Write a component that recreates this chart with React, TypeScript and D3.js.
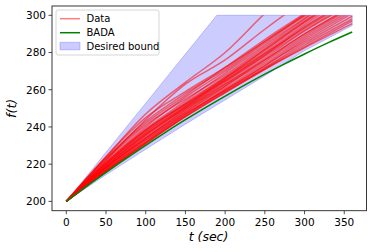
import React from "react";
import * as d3 from "d3";

const W = 374;
const H = 252;

// sample times for the data curves
const dataT = [0, 50, 100, 150, 200, 250, 300, 360];
const dataSeries: number[][] = [
  [200, 224, 247, 264, 280, 301, 320, 340],
  [200, 222, 244, 263, 276, 292.5, 308, 325],
  [200, 223, 242, 257, 272, 287, 301, 318],
  [200, 221, 240, 256, 270, 285, 299.5, 315],
  [200, 222, 241, 255, 268, 283, 298, 314],
  [200, 220, 238, 253, 267, 282, 297, 313],
  [200, 219, 237, 252, 266, 280, 295, 311],
  [200, 220, 238, 252, 265, 279, 294, 309],
  [200, 218, 235, 250, 264, 278, 292, 307],
  [200, 219, 236, 250, 263, 277, 291.5, 306],
  [200, 218, 234, 249, 263, 276, 290, 305],
  [200, 217, 233, 248, 262, 275, 289, 304],
  [200, 218, 234, 248, 261, 274, 288, 303],
  [200, 217, 232, 247, 260, 273, 287, 302],
  [200, 216.5, 232, 246.5, 260, 273, 286, 301],
  [200, 217, 233, 247, 259.5, 272, 285, 299.5],
  [200, 216, 231, 246, 259, 271.5, 284, 298],
  [200, 216, 231.5, 245.5, 258.5, 271, 283, 297],
  [200, 216, 231, 245.5, 258.5, 271, 282.5, 295.5],
  [200, 221, 239, 254, 269, 284, 298.5, 316],
  [200, 219, 236, 251, 265, 279.5, 293, 308],
  [200, 223, 243, 258, 271, 286, 300, 316],
  [200, 220, 237, 251, 266, 281, 296, 312],
  [200, 218, 234, 249, 262, 276, 290, 304.5],
  [200, 224, 245, 259, 272, 286, 300.5, 318],
  [200, 220.5, 238.5, 252.5, 266.5, 281.5, 296.5, 312.5],
  [200, 218.5, 235.5, 250.5, 264.5, 278.5, 293.5, 308.5],
];

const badaT = [0, 30, 60, 90, 120, 150, 180, 210, 240, 270, 300, 330, 360];
const badaF = [200, 209.5, 218.6, 227.3, 235.8, 243.9, 251.6, 259.0, 266.1, 272.8, 279.2, 285.3, 291.0];

const boundT = [0, 50, 100, 150, 189.5, 200, 250, 300, 360];
const boundUpper = [200, 226.4, 252.8, 279.2, 300, 300, 300, 300, 300];
const boundLower = [200, 214.3, 228, 241.5, 251.8, 254.5, 267.5, 281, 294.5];

const xTicks = [0, 50, 100, 150, 200, 250, 300, 350];
const yTicks = [200, 220, 240, 260, 280, 300];

const legendLabels = ["Data", "BADA", "Desired bound"];

export default function App() {
  const left = 52, right = 366.5, top = 6, bottom = 210.7;
  const x = d3.scaleLinear().domain([-18, 378]).range([left, right]);
  const y = d3.scaleLinear().domain([195, 305]).range([bottom, top]);

  const line = d3
    .line<[number, number]>()
    .x((d) => x(d[0]))
    .y((d) => y(d[1]))
    .curve(d3.curveMonotoneX);

  const area = d3
    .area<number>()
    .x((_, i) => x(boundT[i]))
    .y0((_, i) => y(boundLower[i]))
    .y1((_, i) => y(boundUpper[i]));

  const font = "DejaVu Sans, sans-serif";

  return (
    <svg
      width={W}
      height={H}
      style={{ position: "absolute", left: 0, top: 0, background: "#fff" }}
      fontFamily={font}
    >
      <defs>
        <clipPath id="clip300">
          <rect x={left} y={y(300)} width={right - left} height={bottom - y(300)} />
        </clipPath>
      </defs>
      <path
        d={area(boundT) || ""}
        fill="rgba(0,0,255,0.2)"
        stroke="rgba(0,0,255,0.2)"
        strokeWidth={1}
      />
      <g clipPath="url(#clip300)">
        {dataSeries.map((s, i) => (
          <path
            key={i}
            d={line(s.map((v, j) => [dataT[j], v] as [number, number])) || ""}
            fill="none"
            stroke="rgba(255,0,0,0.55)"
            strokeWidth={1.5}
          />
        ))}
      </g>
      <path
        d={line(badaF.map((v, j) => [badaT[j], v] as [number, number])) || ""}
        fill="none"
        stroke="#008000"
        strokeWidth={1.5}
      />
      {/* frame */}
      <rect x={left} y={top} width={right - left} height={bottom - top} fill="none" stroke="#222" strokeWidth={0.9} />
      {xTicks.map((t) => (
        <g key={"x" + t}>
          <line x1={x(t)} x2={x(t)} y1={bottom} y2={bottom + 3.5} stroke="#222" strokeWidth={0.8} />
          <text x={x(t)} y={bottom + 15} fontSize={10.5} textAnchor="middle" fill="#000">
            {t}
          </text>
        </g>
      ))}
      {yTicks.map((t) => (
        <g key={"y" + t}>
          <line x1={left - 3.5} x2={left} y1={y(t)} y2={y(t)} stroke="#222" strokeWidth={0.8} />
          <text x={left - 6} y={y(t) + 3.8} fontSize={10.5} textAnchor="end" fill="#000">
            {t}
          </text>
        </g>
      ))}
      <text x={208.5} y={240.5} fontSize={12.5} textAnchor="middle" fontStyle="italic" fill="#000">
        t (sec)
      </text>
      <text
        transform={`translate(15.5,${(top + bottom) / 2}) rotate(-90)`}
        fontSize={12.5}
        textAnchor="middle"
        fontStyle="italic"
        fill="#000"
      >
        f(t)
      </text>
      {/* legend */}
      <rect x={56} y={10} width={103} height={45} rx={2} fill="rgba(255,255,255,0.8)" stroke="#ccc" strokeWidth={0.8} />
      <line x1={60} x2={80} y1={18.7} y2={18.7} stroke="rgba(255,0,0,0.5)" strokeWidth={1.5} />
      <line x1={60} x2={80} y1={32.7} y2={32.7} stroke="#008000" strokeWidth={1.5} />
      <rect x={60} y={42.3} width={20} height={7.5} fill="rgba(0,0,255,0.2)" stroke="rgba(0,0,255,0.2)" strokeWidth={1} />
      {legendLabels.map((l, i) => (
        <text key={l} x={86.5} y={22.3 + i * 14} fontSize={10} fill="#000">
          {l}
        </text>
      ))}
    </svg>
  );
}
